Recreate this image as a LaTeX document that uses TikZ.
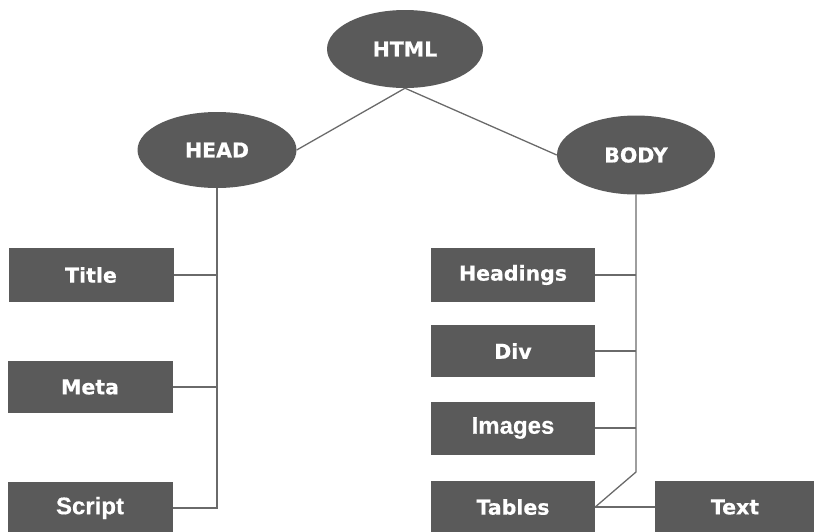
\documentclass[tikz,border=0pt]{standalone}
\usepackage{fontspec}
\usetikzlibrary{shapes.geometric}
\newfontfamily\lbl[FakeBold=0.5]{DejaVu Sans Bold}
\newfontfamily\lblb[FakeBold=0.4]{Liberation Sans Bold}
\definecolor{boxgray}{HTML}{5A5A5A}
\definecolor{linegray}{HTML}{6A6A6A}
\tikzset{
  oval/.style={ellipse, fill=boxgray, draw=none, text=white, font=\lbl\fontsize{20.5}{22}\selectfont, inner sep=0pt},
  tag/.style={rectangle, fill=boxgray, draw=none, text=white, font=\lbl\fontsize{20.5}{22}\selectfont, inner sep=0pt, minimum width=165pt},
  tagb/.style={tag, font=\lblb\fontsize{24}{26}\selectfont},
  link/.style={draw=linegray, line width=1.3pt}
}
\begin{document}
\begin{tikzpicture}[x=1pt,y=-1pt]
\useasboundingbox (0,0) rectangle (814,531);
\clip (0,0) rectangle (814,531);
\node[oval, minimum width=156pt, minimum height=78pt] (html) at (405,49) {HTML};
\node[oval, minimum width=159pt, minimum height=76pt] (head) at (217,150) {HEAD};
\node[oval, minimum width=158pt, minimum height=79pt] (body) at (636,155) {BODY};
\node[tag, minimum height=54pt] (title) at (91,275) {Title};
\node[tag, minimum height=52pt] (meta) at (90,387) {Meta};
\node[tagb, minimum height=52pt] (script) at (90,508) {Script};
\node[tag, minimum height=54pt, minimum width=164pt] (headings) at (513,275) {Headings};
\node[tag, minimum height=52pt, minimum width=164pt] (div) at (513,351) {Div};
\node[tagb, minimum height=53pt, minimum width=164pt] (images) at (513,428) {Images};
\node[tag, minimum height=52pt, minimum width=164pt] (tables) at (513,507) {Tables};
\node[tag, minimum height=52pt, minimum width=160pt] (text) at (735,507) {Text};
\coordinate (bend) at (636,472);
\draw[link] (html.south) -- (head.east);
\draw[link] (html.south) -- (body.west);
\draw[link] (head.south) |- (script.east);
\draw[link] (title.east) -- (title.east -| head.south);
\draw[link] (meta.east) -- (meta.east -| head.south);
\draw[link] (body.south) -- (bend) -- (tables.east);
\draw[link] (headings.east) -- (headings.east -| body.south);
\draw[link] (div.east) -- (div.east -| body.south);
\draw[link] (images.east) -- (images.east -| body.south);
\draw[link] (tables.east) -- (text.west);
\end{tikzpicture}
\end{document}
